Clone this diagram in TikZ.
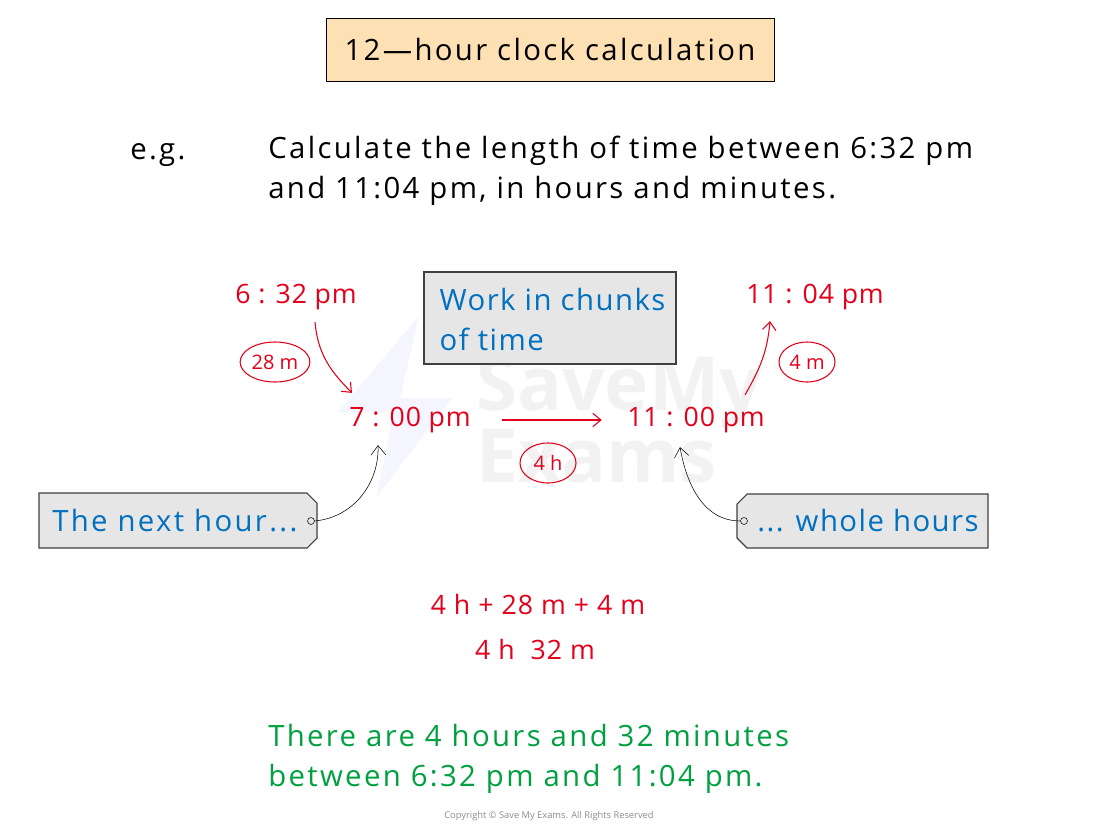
\documentclass[tikz,border=0pt]{standalone}
\usepackage{fontspec}
\setmainfont{Open Sans}
\usetikzlibrary{positioning, arrows.meta, shapes.geometric}
\definecolor{smred}{HTML}{E2001A}
\definecolor{smblue}{HTML}{0070C0}
\definecolor{smgreen}{HTML}{00A040}
\definecolor{titlefill}{HTML}{FDE0B4}
\definecolor{boxfill}{HTML}{E6E6E6}
\definecolor{boxline}{HTML}{404040}
\newcommand{\spaced}[1]{\addfontfeature{LetterSpace=#1}}

\begin{document}
\begin{tikzpicture}[x=0.75pt, y=0.75pt,
  txt/.style={font=\fontsize{22}{30}\selectfont\spaced{8}, inner sep=0pt},
  tighttxt/.style={font=\fontsize{22}{30}\selectfont\spaced{5}, inner sep=0pt},
  timelbl/.style={font=\fontsize{20}{24}\selectfont\spaced{3}, text=smred, inner sep=0pt},
  chunk/.style={draw=smred, thick, ellipse, text=smred, inner sep=1pt,
    font=\fontsize{15}{16}\selectfont, minimum height=30pt},
  redarrow/.style={draw=smred, thick, -{Straight Barb[length=6pt, width=10pt]}},
  blackarrow/.style={thin, -{Straight Barb[length=7pt, width=11pt]}},
  tagbox/.style={draw=boxline, fill=boxfill, line width=0.8pt},
  sumlbl/.style={font=\fontsize{20}{22}\selectfont\spaced{4}, text=smred, inner sep=0pt}]
\useasboundingbox (0,0) rectangle (1100,-826);
% watermark
\fill[blue!4] (419,-316) -- (338,-412) -- (394,-412) -- (376,-498) -- (452,-398) -- (400,-398) -- cycle;
\node (wm) [font=\fontsize{56}{52}\selectfont\bfseries, text=black!5, align=left, inner sep=0pt, anchor=north west] at (476,-356) {SaveMy\\Exams};

% title and question
\node (title) [draw, fill=titlefill, minimum width=336pt, minimum height=47pt, txt] at (550,-49.5) {12---hour clock calculation};
\node (eg) [txt, anchor=base west] at (130,-159) {e.g.};
\node (quest) [txt, anchor=base west, align=left] at (268,-198) {Calculate the length of time between 6:32 pm\\and 11:04 pm, in hours and minutes.};

% times
\node (t632) [timelbl] at (296,-297) {6 : 32 pm};
\node (t700) [timelbl] at (410,-420) {7 : 00 pm};
\node (t1100) [timelbl] at (696,-420) {11 : 00 pm};
\node (t1104) [timelbl] at (815,-297) {11 : 04 pm};

\node (chunks) [draw=boxline, fill=boxfill, line width=1pt, minimum width=189pt, minimum height=69pt] at (550,-318) {};
\node (chunkstxt) [tighttxt, text=smblue, align=left, anchor=west] at ([xshift=12pt, yshift=-1pt]chunks.west) {Work in chunks\\of time};

\node (m28) [chunk, minimum width=48pt] at (275,-362) {28 m};
\node (h4) [chunk, minimum width=42pt] at (548,-463) {4 h};
\node (m4) [chunk, minimum width=42pt] at (807,-362) {4 m};

\draw[redarrow] ([shift={(19,-12)}]t632.south) to[out=-85, in=135] ([shift={(-58,14)}]t700.north);
\draw[redarrow] ([xshift=23pt]t700.east) -- ([xshift=-19pt]t1100.west);
\draw[redarrow] ([shift={(49,12)}]t1100.north) to[out=60, in=-95] ([shift={(-45,-11)}]t1104.south);

% tags
\draw[tagbox] (39,-493) -- (307,-493) -- (317,-503) -- (317,-538) -- (307,-548) -- (39,-548) -- cycle;
\node (nexthr) [txt, text=smblue, anchor=west] at (52,-521) {The next hour...};
\coordinate (hole1) at (311,-521);
\draw (hole1) circle (2.6pt);
\draw[blackarrow] (hole1) ++(3.5,0) to[out=5, in=-88] ([shift={(-32,-12)}]t700.south);

\draw[tagbox] (747,-494) -- (988,-494) -- (988,-548) -- (747,-548) -- (737,-538) -- (737,-504) -- cycle;
\node (wholehr) [tighttxt, text=smblue, anchor=west] at (757,-521) {... whole hours};
\coordinate (hole2) at (744,-521);
\draw (hole2) circle (2.6pt);
\draw[blackarrow] (hole2) ++(-3.5,0) to[out=180, in=-80] ([shift={(-16,-14)}]t1100.south);

% working
\node (sum) [sumlbl] at (538,-604) {4 h + 28 m + 4 m};
\node (total) [sumlbl] at (535,-649) {4 h\ \ 32 m};

\node (answer) [txt, text=smgreen, anchor=base west, align=left] at (268,-786) {There are 4 hours and 32 minutes\\between 6:32 pm and 11:04 pm.};
\node (copy) [font=\fontsize{7}{8}\selectfont, text=black!45, inner sep=0pt] at (549,-816) {Copyright \textcopyright{} Save My Exams. All Rights Reserved};
\end{tikzpicture}
\end{document}
